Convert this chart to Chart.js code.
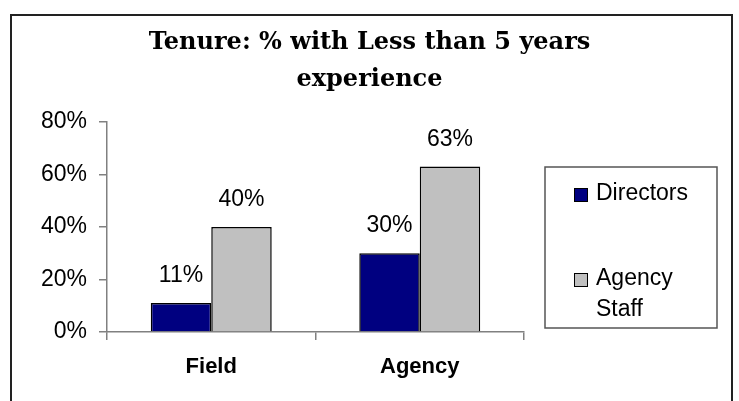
<!DOCTYPE html>
<html>
<head>
<meta charset="utf-8">
<script src="https://cdn.jsdelivr.net/npm/chart.js@4"></script>
<style>
  html, body { margin: 0; padding: 0; background: #fff; }
  #wrap { position: relative; width: 739px; height: 401px; overflow: hidden; }
  #frame { position: absolute; left: 10px; top: 14px; width: 723px; height: 420px;
           border: 2px solid #222; box-sizing: border-box; pointer-events: none; }
  canvas { position: absolute; left: 0; top: 0; }
</style>
</head>
<body>
<div id="wrap">
  <canvas id="chart" width="739" height="401"></canvas>
  <div id="frame"></div>
</div>
<script>
// data
const categories = ["Field", "Agency"];
const seriesNames = ["Directors", "Agency Staff"];
const directors = [11, 30];
const agencyStaff = [40, 63];
const yTicks = [0, 20, 40, 60, 80];

const SERIES_COLORS = ["#000080", "#c0c0c0"];
const SANS = "'Liberation Sans', Arial, sans-serif";

// value labels above each bar
const barLabels = {
    id: "barLabels",
    afterDatasetsDraw(chart) {
        const ctx = chart.ctx;
        ctx.save();
        ctx.font = "23px " + SANS;
        ctx.fillStyle = "#000";
        ctx.textAlign = "center";
        ctx.textBaseline = "alphabetic";
        chart.data.datasets.forEach((ds, i) => {
            chart.getDatasetMeta(i).data.forEach((bar, j) => {
                ctx.fillText(ds.data[j] + "%", bar.x, bar.y - 21);
            });
        });
        ctx.restore();
    }
};

// boxed legend on the right, labels may wrap onto several lines
const boxLegend = {
    id: "boxLegend",
    afterDraw(chart) {
        const ctx = chart.ctx;
        const box = { x: 545, y: 167, w: 172, h: 161 };
        ctx.save();
        ctx.strokeStyle = "#555";
        ctx.lineWidth = 1.5;
        ctx.strokeRect(box.x, box.y, box.w, box.h);
        ctx.font = "23px " + SANS;
        ctx.textBaseline = "middle";
        const itemY = [194, 279];
        chart.data.datasets.forEach((ds, i) => {
            const y = itemY[i];
            ctx.fillStyle = ds.backgroundColor;
            ctx.fillRect(574, y - 6, 14, 14);
            ctx.strokeStyle = "#000";
            ctx.lineWidth = 1;
            ctx.strokeRect(574.5, y - 5.5, 13, 13);
            ctx.fillStyle = "#000";
            ds.legendLines.forEach((line, k) => ctx.fillText(line, 596, y + k * 31));
        });
        ctx.restore();
    }
};

new Chart(document.getElementById("chart"), {
    type: "bar",
    data: {
        labels: categories,
        datasets: [
            {
                label: seriesNames[0],
                legendLines: ["Directors"],
                data: directors,
                backgroundColor: SERIES_COLORS[0],
                borderColor: "#000",
                borderWidth: 1.5,
                categoryPercentage: 0.58,
                barPercentage: 1.0,
            },
            {
                label: seriesNames[1],
                legendLines: ["Agency", "Staff"],
                data: agencyStaff,
                backgroundColor: SERIES_COLORS[1],
                borderColor: "#000",
                borderWidth: 1.5,
                categoryPercentage: 0.58,
                barPercentage: 1.0,
            },
        ],
    },
    options: {
        responsive: false,
        animation: false,
        layout: { padding: 0 },
        plugins: {
            legend: { display: false },
            tooltip: { enabled: false },
            title: {
                display: true,
                text: ["Tenure: % with Less than 5 years", "experience"],
                color: "#000",
                font: { family: "'DejaVu Serif', serif", size: 24, weight: "bold", lineHeight: 1.54 },
                padding: { top: 24, bottom: 24 },
            },
        },
        scales: {
            x: {
                grid: { offset: true, drawOnChartArea: false, tickLength: 8, color: "#808080", lineWidth: 1.5 },
                border: { color: "#808080", width: 1.5 },
                ticks: { color: "#000", padding: 14, font: { family: SANS, size: 22, weight: "bold" } },
                afterFit(scale) { scale.height = 69; },
            },
            y: {
                min: 0,
                max: 80,
                afterBuildTicks(scale) { scale.ticks = yTicks.map(v => ({ value: v })); },
                grid: { drawOnChartArea: false, tickLength: 8, color: "#808080", lineWidth: 1.5 },
                border: { color: "#808080", width: 1.5 },
                ticks: { color: "#000", padding: 12, font: { family: SANS, size: 23 }, callback: v => v + "%" },
                afterFit(scale) { scale.width = 107; },
            },
            // empty right-hand scale that reserves the room the legend box sits in
            spacer: {
                position: "right",
                axis: "y",
                grid: { display: false },
                border: { display: false },
                ticks: { display: false },
                afterFit(scale) { scale.width = 215; },
            },
        },
    },
    plugins: [barLabels, boxLegend],
});
</script>
</body>
</html>
